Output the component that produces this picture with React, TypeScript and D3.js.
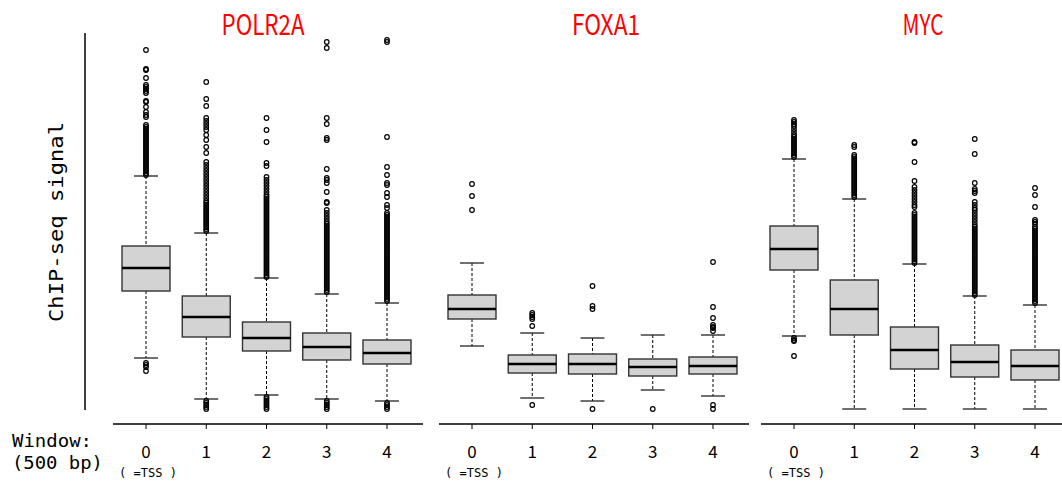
import * as d3 from 'd3';
import { useEffect } from 'react';

// genes and windows
const genes = ['POLR2A', 'FOXA1', 'MYC'];
const windowLabels = ['0', '1', '2', '3', '4'];

// [lower whisker, q1, median, q3, upper whisker] per window
const polr2aBoxes = [
  [5.3, 12.0, 14.3, 16.5, 23.5],
  [1.2, 7.4, 9.4, 11.5, 17.8],
  [1.6, 6.0, 7.3, 8.9, 13.3],
  [1.2, 5.1, 6.4, 7.8, 11.7],
  [1.0, 4.7, 5.8, 7.1, 10.8],
];
const foxa1Boxes = [
  [6.5, 9.2, 10.2, 11.6, 14.8],
  [1.3, 3.8, 4.7, 5.6, 7.8],
  [1.0, 3.7, 4.7, 5.7, 7.3],
  [2.1, 3.5, 4.4, 5.2, 7.6],
  [1.5, 3.7, 4.5, 5.4, 7.6],
];
const mycBoxes = [
  [7.5, 14.1, 16.2, 18.5, 25.2],
  [0.2, 7.6, 10.2, 13.1, 21.2],
  [0.2, 4.2, 6.1, 8.4, 14.7],
  [0.2, 3.4, 4.9, 6.6, 11.5],
  [0.2, 3.1, 4.5, 6.1, 10.6],
];

// outliers per window
const polr2aOutliers = [
  [36.1, 34.2, 34.1, 33.3, 32.6, 32.4, 32.2, 32.0, 31.8, 31.0, 30.9, 30.4, 29.9, 29.6, 29.4, 28.6, 28.4, 28.2, 28.0, 27.8, 27.6, 27.4, 27.2, 27.0, 26.8, 26.6, 26.4, 26.2, 26.0, 25.8, 25.6, 25.4, 25.2, 25.0, 24.8, 24.6, 24.4, 24.2, 24.0, 23.8, 23.6, 4.8, 4.6, 4.4, 4.0],
  [32.9, 31.2, 30.5, 29.3, 29.0, 28.7, 28.4, 28.1, 27.6, 27.1, 26.4, 25.8, 24.9, 24.6, 24.3, 24.0, 23.7, 23.4, 23.1, 22.8, 22.5, 22.2, 21.9, 21.6, 21.3, 21.0, 20.8, 20.6, 20.4, 20.2, 20.0, 19.8, 19.6, 19.4, 19.2, 19.0, 18.8, 18.6, 18.4, 18.2, 18.0, 1.0, 0.8, 0.6, 0.4, 0.2],
  [29.3, 28.1, 26.9, 24.8, 24.5, 23.4, 23.1, 22.8, 22.5, 22.2, 21.9, 21.6, 21.4, 21.2, 21.0, 20.8, 20.6, 20.4, 20.2, 20.0, 19.8, 19.6, 19.4, 19.2, 19.0, 18.8, 18.6, 18.4, 18.2, 18.0, 17.8, 17.6, 17.4, 17.2, 17.0, 16.8, 16.6, 16.4, 16.2, 16.0, 15.8, 15.6, 15.4, 15.2, 15.0, 14.8, 14.6, 14.4, 14.2, 14.0, 13.8, 13.6, 13.4, 1.4, 1.2, 1.0, 0.8, 0.6, 0.4, 0.2],
  [36.9, 36.3, 29.3, 28.7, 27.3, 27.1, 24.2, 23.3, 23.1, 22.8, 21.9, 20.9, 20.8, 20.1, 19.8, 19.5, 19.2, 18.9, 18.7, 18.5, 18.3, 18.1, 17.9, 17.7, 17.5, 17.3, 17.1, 16.9, 16.7, 16.5, 16.3, 16.1, 15.9, 15.7, 15.5, 15.3, 15.1, 14.9, 14.7, 14.5, 14.3, 14.1, 13.9, 13.7, 13.5, 13.3, 13.1, 12.9, 12.7, 12.5, 12.3, 12.1, 11.9, 1.0, 0.8, 0.6, 0.4, 0.2],
  [37.1, 36.9, 27.4, 24.4, 23.6, 22.8, 22.6, 21.8, 21.4, 20.6, 20.3, 19.8, 19.6, 19.4, 19.2, 19.0, 18.8, 18.6, 18.4, 18.2, 18.0, 17.8, 17.6, 17.4, 17.2, 17.0, 16.8, 16.6, 16.4, 16.2, 16.0, 15.8, 15.6, 15.4, 15.2, 15.0, 14.8, 14.6, 14.4, 14.2, 14.0, 13.8, 13.6, 13.4, 13.2, 13.0, 12.8, 12.6, 12.4, 12.2, 12.0, 11.8, 11.6, 11.4, 11.2, 11.0, 0.8, 0.6, 0.4, 0.2],
];
const foxa1Outliers = [
  [22.7, 21.5, 20.1],
  [9.8, 9.6, 9.4, 9.2, 8.5, 0.6],
  [12.5, 10.5, 10.2, 0.2],
  [0.2],
  [14.9, 10.4, 9.3, 8.6, 8.4, 8.3, 8.0, 0.6, 0.2],
];
const mycOutliers = [
  [29.1, 28.9, 28.7, 28.5, 28.2, 27.9, 27.6, 27.4, 27.2, 27.0, 26.8, 26.6, 26.4, 26.2, 26.0, 25.8, 25.6, 25.4, 7.3, 7.1, 7.0, 5.5],
  [26.6, 26.4, 25.6, 25.4, 25.2, 25.0, 24.8, 24.6, 24.4, 24.2, 24.0, 23.8, 23.6, 23.4, 23.2, 23.0, 22.8, 22.6, 22.4, 22.2, 22.0, 21.8, 21.6, 21.4],
  [26.9, 26.8, 24.9, 23.0, 22.4, 22.1, 21.8, 21.5, 21.2, 20.9, 20.6, 20.4, 19.8, 19.6, 19.4, 19.2, 19.0, 18.8, 18.6, 18.4, 18.2, 18.0, 17.8, 17.6, 17.4, 17.2, 17.0, 16.8, 16.6, 16.4, 16.2, 16.0, 15.8, 15.6, 15.4, 15.2, 15.0, 14.8],
  [27.2, 25.7, 22.8, 22.2, 22.0, 21.8, 20.9, 20.6, 20.3, 20.1, 19.8, 19.5, 19.2, 18.9, 18.6, 18.4, 18.2, 18.0, 17.8, 17.6, 17.4, 17.2, 17.0, 16.8, 16.6, 16.4, 16.2, 16.0, 15.8, 15.6, 15.4, 15.2, 15.0, 14.8, 14.6, 14.4, 14.2, 14.0, 13.8, 13.6, 13.4, 13.2, 13.0, 12.8, 12.6, 12.4, 12.2, 12.0, 11.8, 11.6],
  [22.3, 21.6, 20.4, 19.1, 18.9, 18.7, 18.4, 18.2, 18.0, 17.8, 17.6, 17.4, 17.2, 17.0, 16.8, 16.6, 16.4, 16.2, 16.0, 15.8, 15.6, 15.4, 15.2, 15.0, 14.8, 14.6, 14.4, 14.2, 14.0, 13.8, 13.6, 13.4, 13.2, 13.0, 12.8, 12.6, 12.4, 12.2, 12.0, 11.8, 11.6, 11.4, 11.2, 11.0, 10.8],
];

const panels = [
  { gene: genes[0], boxes: polr2aBoxes, outliers: polr2aOutliers, x0: 146, titleX: 263, titleLen: 83 },
  { gene: genes[1], boxes: foxa1Boxes, outliers: foxa1Outliers, x0: 472, titleX: 606, titleLen: 68 },
  { gene: genes[2], boxes: mycBoxes, outliers: mycOutliers, x0: 794, titleX: 923, titleLen: 41 },
];

const width = 1062;
const height = 483;
const font = "'Noto Sans CJK JP', 'DejaVu Sans', sans-serif";
const mono = "'DejaVu Sans Mono', 'Liberation Mono', monospace";

export default function App() {
  useEffect(() => {
    document.body.style.margin = '0';
  }, []);

  // shared signal scale
  const y = d3.scaleLinear().domain([0, 37]).range([411, 41]);
  const boxW = 48;
  const capW = 24;
  const axisY = 424;

  return (
    <svg width={width} height={height} style={{ display: 'block', background: '#fff' }}>
      {/* y axis line + label */}
      <line x1={85} x2={85} y1={33} y2={410} stroke="#000" strokeWidth={1.5} />
      <text
        transform="translate(63, 222) rotate(-90)"
        textAnchor="middle"
        fontFamily={mono}
        fontSize={20}
        textLength={200}
        lengthAdjust="spacingAndGlyphs"
      >
        ChIP-seq signal
      </text>

      <text x={12} y={447} fontFamily={mono} fontSize={18} textLength={80} lengthAdjust="spacingAndGlyphs">
        Window:
      </text>
      <text x={12} y={469} fontFamily={mono} fontSize={18} textLength={91} lengthAdjust="spacingAndGlyphs">
        (500 bp)
      </text>

      {panels.map(p => {
        const x = d3.scaleLinear().domain([0, 4]).range([p.x0, p.x0 + 241]);
        return (
          <g key={p.gene}>
            <text
              x={p.titleX}
              y={35}
              textAnchor="middle"
              fill="#ff0000"
              fontFamily={font}
              fontSize={28}
              textLength={p.titleLen}
              lengthAdjust="spacingAndGlyphs"
            >
              {p.gene}
            </text>

            {/* x axis */}
            <line x1={p.x0 - 33} x2={Math.min(p.x0 + 277, width)} y1={axisY} y2={axisY} stroke="#000" strokeWidth={1.3} />
            {windowLabels.map((lab, i) => (
              <g key={lab}>
                <line x1={x(i)} x2={x(i)} y1={axisY} y2={axisY + 5} stroke="#000" />
                <text x={x(i)} y={458} textAnchor="middle" fontFamily={font} fontSize={17}>
                  {lab}
                </text>
              </g>
            ))}
            <text
              x={x(0) + 2}
              y={477}
              textAnchor="middle"
              fontFamily={mono}
              fontSize={13}
              textLength={58}
              lengthAdjust="spacingAndGlyphs"
              xmlSpace="preserve"
            >
              {'( =TSS )'}
            </text>

            {/* boxes */}
            {p.boxes.map((b, i) => {
              const cx = x(i);
              const [lo, q1, med, q3, hi] = b;
              return (
                <g key={i}>
                  <line x1={cx} x2={cx} y1={y(hi)} y2={y(q3)} stroke="#000" strokeDasharray="3,2" />
                  <line x1={cx} x2={cx} y1={y(q1)} y2={y(lo)} stroke="#000" strokeDasharray="3,2" />
                  <line x1={cx - capW / 2} x2={cx + capW / 2} y1={y(hi)} y2={y(hi)} stroke="#222" strokeWidth={1.3} />
                  <line x1={cx - capW / 2} x2={cx + capW / 2} y1={y(lo)} y2={y(lo)} stroke="#222" strokeWidth={1.3} />
                  <rect
                    x={cx - boxW / 2}
                    y={y(q3)}
                    width={boxW}
                    height={y(q1) - y(q3)}
                    fill="#d3d3d3"
                    stroke="#333"
                    strokeWidth={1.4}
                  />
                  <line x1={cx - boxW / 2} x2={cx + boxW / 2} y1={y(med)} y2={y(med)} stroke="#000" strokeWidth={2.4} />
                  {p.outliers[i].map((v, j) => (
                    <circle key={j} cx={cx} cy={y(v)} r={2.3} fill="none" stroke="#000" strokeWidth={1.2} />
                  ))}
                </g>
              );
            })}
          </g>
        );
      })}
    </svg>
  );
}
